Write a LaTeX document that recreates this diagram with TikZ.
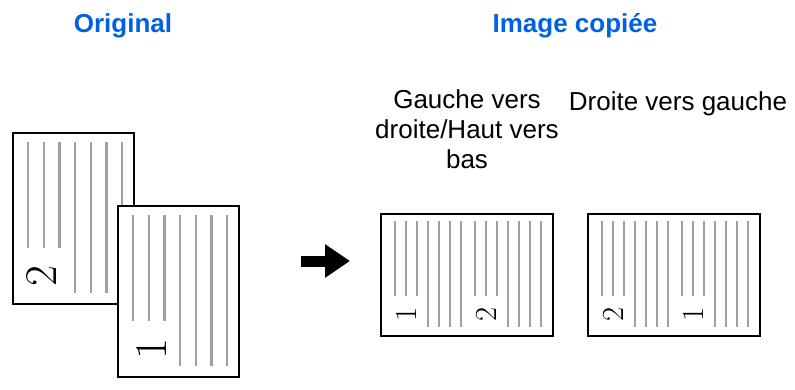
\documentclass[tikz,border=0pt]{standalone}
\usepackage{fontspec}
\setsansfont{Liberation Sans}
\usetikzlibrary{arrows.meta}
\definecolor{titleblue}{RGB}{0,96,230}
\definecolor{linegray}{RGB}{160,160,160}

\begin{document}
\begin{tikzpicture}[x=0.75pt,y=-0.75pt,
  page/.style={draw=black,line width=1.4pt,fill=white},
  bigline/.style={linegray,line width=1.8pt},
  smallline/.style={linegray,line width=1.5pt},
  title/.style={text=titleblue,anchor=base,font=\sffamily\bfseries\fontsize{19.5}{22}\selectfont},
  caption/.style={font=\sffamily\fontsize{19.5}{22.5}\selectfont,align=center,inner sep=0pt,anchor=base},
  bignum/.style={rotate=90,inner sep=0pt,font=\fontsize{34}{36}\selectfont},
  smallnum/.style={rotate=90,inner sep=0pt,font=\fontsize{23}{24}\selectfont}]
% Keep the size of the whole picture
\useasboundingbox (0,0) rectangle (795,389);
% Titles in blue
\node[title] (orig) at (123,32) {Original};
\node[title] (copy) at (575,32) {Image copiée};
% Captions above the copied pages (base is the last line)
\node[caption] (ltr) at (467,168) {Gauche vers\\droite/Haut vers\\bas};
\node[caption] (rtl) at (678,110) {Droite vers gauche};
% Original pages: page 2 behind, page 1 in front
\foreach \px/\py/\nx/\num in {13/133/28.5/2, 118/206/34/1} {
  \begin{scope}[shift={(\px,\py)}]
  \draw[page] (0,0) rectangle (121,171);
  % Short lines above the number, long lines beside it
  \foreach \i in {0,1,2}
    \draw[bigline] ({15+15.7*\i},9) -- ({15+15.7*\i},115);
  \foreach \i in {3,...,6}
    \draw[bigline] ({15+15.7*\i},9) -- ({15+15.7*\i},160);
  \node[bignum] (big\num) at (\nx,143) {\num};
  \end{scope}
}
% Arrow between original and copies
\coordinate (from) at (301,261);
\coordinate (to) at (350,261);
\draw[line width=8.25pt,-{Triangle[length=18.75pt,width=24pt]}] (from) -- (to);
% Copied pages, two halves on one sheet
\foreach \px/\na/\nb in {381/1/2, 588/2/1} {
  \begin{scope}[shift={(\px,214)}]
  \draw[page] (0,0) rectangle (172,122);
  \foreach \h in {0,80} {
    \foreach \i in {0,1,2}
      \draw[smallline] ({14+\h+11*\i},7) -- ({14+\h+11*\i},82);
    \foreach \i in {3,...,6}
      \draw[smallline] ({14+\h+11*\i},7) -- ({14+\h+11*\i},113);
  }
  \node[smallnum] (left\px) at (25,100) {\na};
  \node[smallnum] (right\px) at (105,100) {\nb};
  \end{scope}
}
\end{tikzpicture}
\end{document}
